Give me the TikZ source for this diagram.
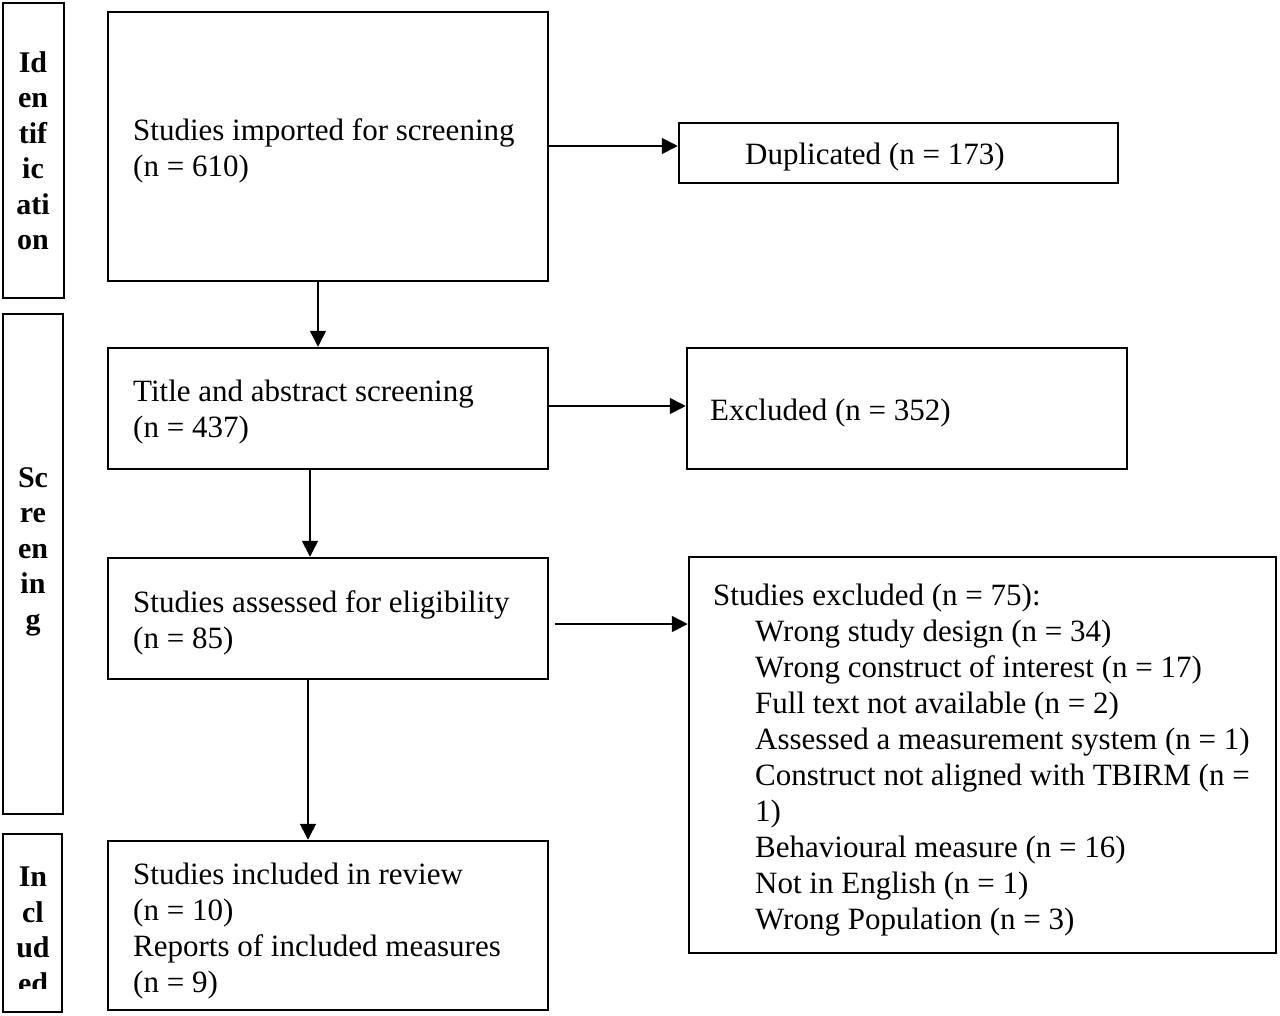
\documentclass[tikz,border=0pt]{standalone}
\usepackage{fontspec}
\setmainfont{Liberation Serif}
\usetikzlibrary{arrows.meta}
\begin{document}
\begin{tikzpicture}[x=1pt,y=-1pt,
 box/.style={draw, line width=2.5pt, inner sep=0pt},
 txt/.style={anchor=north west, align=left, inner sep=0pt, font=\fontsize{31}{36}\selectfont},
 lab/.style={anchor=north, align=center, inner sep=0pt, font=\fontsize{30}{35.5}\selectfont\bfseries},
 arr/.style={line width=1.6pt, -{Triangle[length=16pt,width=16pt]}}]
\useasboundingbox (0,0) rectangle (1280,1015);
% stage labels
\node[box, minimum width=61pt, minimum height=295pt] (lid) at (33.5,150.5) {};
\node[box, minimum width=60pt, minimum height=500pt] (lsc) at (33,564) {};
\node[box, minimum width=59pt, minimum height=178pt] (lin) at (32.5,923) {};
\node[lab] (tid) at (33,51) {Id\\en\\tif\\ic\\ati\\on};
\node[lab] (tsc) at (33,467) {Sc\\re\\en\\in\\g};
\begin{scope}
\clip (5,836) rectangle (60,988);
\node[lab] (tin) at (33,867) {In\\cl\\ud\\ed};
\end{scope}
% main boxes
\node[box, minimum width=440pt, minimum height=269pt] (b1) at (328,146.5) {};
\node[box, minimum width=440pt, minimum height=121pt] (b2) at (328,408.5) {};
\node[box, minimum width=440pt, minimum height=121pt] (b3) at (328,618.5) {};
\node[box, minimum width=440pt, minimum height=169pt] (b4) at (328,925.5) {};
\node[box, minimum width=439pt, minimum height=60pt] (e1) at (898.5,153) {};
\node[box, minimum width=440pt, minimum height=121pt] (e2) at (907,408.5) {};
\node[box, minimum width=587pt, minimum height=396pt] (e3) at (982.5,755) {};
% texts
\node[txt] (t1) at (133,118) {Studies imported for screening\\(n = 610)};
\node[txt] (t2) at (133,380) {Title and abstract screening\\(n = 437)};
\node[txt] (t3) at (133,590) {Studies assessed for eligibility\\(n = 85)};
\node[txt] (t4) at (133,863) {Studies included in review\\(n = 10)\\Reports of included measures\\(n = 9)};
\node[txt] (d1) at (745,143) {Duplicated (n = 173)};
\node[txt] (d2) at (710,399) {Excluded (n = 352)};
\node[txt] (d3) at (713,584) {Studies excluded (n = 75):\\
\hspace*{42pt}Wrong study design (n = 34)\\
\hspace*{42pt}Wrong construct of interest (n = 17)\\
\hspace*{42pt}Full text not available (n = 2)\\
\hspace*{42pt}Assessed a measurement system (n = 1)\\
\hspace*{42pt}Construct not aligned with TBIRM (n =\\
\hspace*{42pt}1)\\
\hspace*{42pt}Behavioural measure (n = 16)\\
\hspace*{42pt}Not in English (n = 1)\\
\hspace*{42pt}Wrong Population (n = 3)};
% arrows
\coordinate (xa) at (318,0);
\coordinate (xb) at (310,0);
\coordinate (xc) at (308,0);
\coordinate (ya) at (0,146);
\coordinate (yb) at (0,406);
\coordinate (yc) at (0,624);
\coordinate (sc) at (555,624);
\draw[arr] (b1.east |- ya) -- (e1.west |- ya);
\draw[arr] (b2.east |- yb) -- (e2.west |- yb);
\draw[arr] (sc) -- (e3.west |- yc);
\draw[arr] (b1.south -| xa) -- (b2.north -| xa);
\draw[arr] (b2.south -| xb) -- (b3.north -| xb);
\draw[arr] (b3.south -| xc) -- (b4.north -| xc);
\end{tikzpicture}
\end{document}
